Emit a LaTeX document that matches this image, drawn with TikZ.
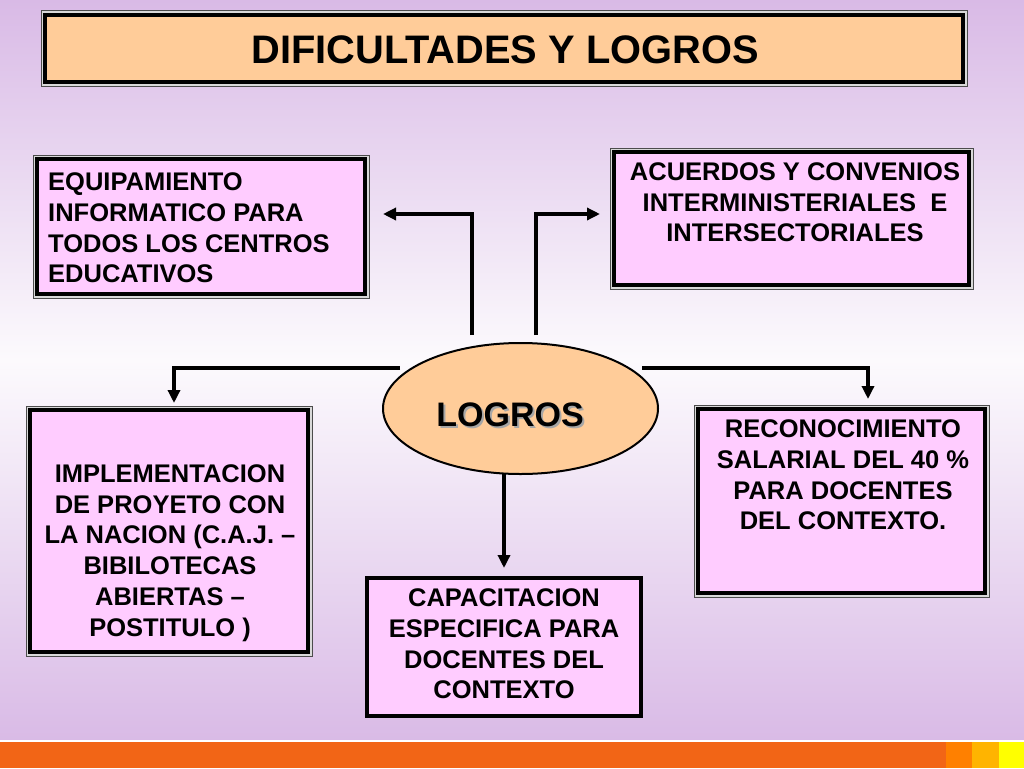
\documentclass[tikz,border=0pt]{standalone}
\usepackage{fontspec}
\setmainfont{Liberation Sans}
\usetikzlibrary{positioning,arrows.meta,shapes.geometric}

\definecolor{lavender}{RGB}{217,186,230}
\definecolor{paper}{RGB}{252,250,253}
\definecolor{pinkfill}{RGB}{255,204,255}
\definecolor{peach}{RGB}{255,204,153}
\definecolor{barorange}{RGB}{242,101,22}
\definecolor{tabA}{RGB}{255,128,0}
\definecolor{tabB}{RGB}{255,180,0}
\definecolor{tabC}{RGB}{255,255,0}

\begin{document}
\begin{tikzpicture}[
    x=1pt, y=-1pt,
    frame/.style={draw=black, line width=4pt, fill=pinkfill, inner sep=0pt, outer sep=0pt,
                  preaction={draw=black!70, line width=9pt},
                  preaction={draw=gray!30, line width=7pt}},
    plainbox/.style={draw=black, line width=4pt, fill=pinkfill, inner sep=0pt, outer sep=0pt},
    txt/.style={font=\fontsize{25.5}{30.7}\selectfont\bfseries, align=center, inner sep=0pt},
    arr/.style={-{Triangle[length=13pt,width=12pt]}, line width=4pt}
  ]
    \useasboundingbox (0,0) rectangle (1024,768);

    % background
    \shade[top color=lavender, bottom color=paper] (0,0) rectangle (1024,360);
    \shade[top color=paper, bottom color=lavender] (0,360) rectangle (1024,741);
    \fill[white] (0,740) rectangle (1024,742);
    \fill[barorange] (0,742) rectangle (946,768);
    \fill[tabA] (946,742) rectangle (972,768);
    \fill[tabB] (972,742) rectangle (999,768);
    \fill[tabC] (999,742) rectangle (1024,768);

    % title
    \node[frame, fill=peach, minimum width=918, minimum height=67] (title) at (504,48.5) {};
    \node[font=\fontsize{39.8}{48}\selectfont\bfseries, inner sep=0pt] (titleTxt) at (505,50)
        {DIFICULTADES Y LOGROS};

    % boxes
    \node[frame, minimum width=328, minimum height=135] (equipBox) at (201,226.5) {};
    \node[frame, minimum width=355, minimum height=133] (acuBox) at (791.5,218.5) {};
    \node[frame, minimum width=278, minimum height=242] (implBox) at (169,531) {};
    \node[frame, minimum width=287, minimum height=184] (reconBox) at (841.5,501) {};
    \node[plainbox, minimum width=274, minimum height=138] (capacBox) at (504,647) {};

    \node[txt, align=left, anchor=west] (equip) at (48,228)
        {EQUIPAMIENTO\\INFORMATICO PARA\\TODOS LOS CENTROS\\EDUCATIVOS};
    \node[txt] (acu) at (795,202.5)
        {ACUERDOS Y CONVENIOS\\INTERMINISTERIALES\ \ E\\INTERSECTORIALES};
    \node[txt] (impl) at (170,553)
        {IMPLEMENTACION\\DE PROYETO CON\\LA NACION (C.A.J. –\\BIBILOTECAS\\ABIERTAS –\\POSTITULO )};
    \node[txt] (recon) at (843,475)
        {RECONOCIMIENTO\\SALARIAL DEL 40 \%\\PARA DOCENTES\\DEL CONTEXTO.};
    \node[txt] (capac) at (504,644)
        {CAPACITACION\\ESPECIFICA PARA\\DOCENTES DEL\\CONTEXTO};

    % centre
    \node[ellipse, draw=black, line width=2pt, fill=peach, outer sep=0pt,
          minimum width=275, minimum height=131] (logros) at (520.5,408.5) {};
    \node[font=\fontsize{34}{40}\selectfont\bfseries, text=gray!70, inner sep=0pt] (logrosShadow) at (512,417) {LOGROS};
    \node[font=\fontsize{34}{40}\selectfont\bfseries, inner sep=0pt] (logrosTxt) at (510,415) {LOGROS};

    % connectors
    \coordinate (sL) at (472,335);
    \coordinate (sR) at (536,335);
    \coordinate (sLL) at (400,368);
    \coordinate (sRR) at (642,368);

    \draw[arr] (sL) |- ([xshift=18pt,yshift=12.5pt]equipBox.east);
    \draw[arr] (sR) |- ([xshift=-14pt,yshift=4.5pt]acuBox.west);
    \draw[arr] (sLL) -| ([xshift=5pt,yshift=7pt]implBox.north);
    \draw[arr] (sRR) -| ([xshift=26.5pt,yshift=10pt]reconBox.north);
    \draw[arr, shorten >=10pt] (capacBox.north |- logros.south) -- (capacBox.north);
\end{tikzpicture}
\end{document}
